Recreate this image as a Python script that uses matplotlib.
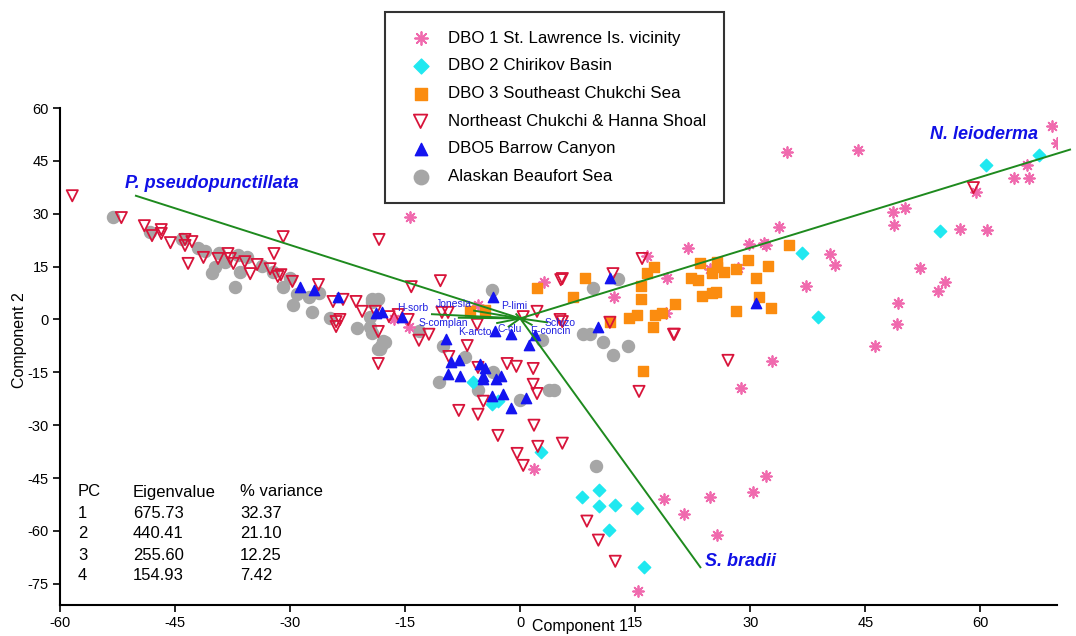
import matplotlib
matplotlib.use('Agg')
import matplotlib.pyplot as plt

plt.rcParams['font.family'] = ['Liberation Sans', 'DejaVu Sans']
plt.rcParams['axes.unicode_minus'] = False

# DBO 1 St. Lawrence Is. vicinity
dbo1_x = [69.3, 70.0, 66.1, 64.4, 66.4, 59.5, 48.6, 50.2, 48.8, 57.3, 60.9, 44.1, 34.8,
          33.8, 32.0, 40.4, 41.0, 52.2, 55.4, 54.5, 37.3, 49.3, 49.2, 46.3, 32.9,
          21.9, 29.9, 31.8, 16.6, 19.2, 12.3, 24.8, 28.4, 19.0, -14.3, 3.1, -5.5,
          -14.5, -16.5, 1.8, 18.7, 15.4, 21.3, 24.8, 25.7, 30.3, 32.1, 28.8]
dbo1_y = [55.0, 50.1, 43.9, 40.0, 40.2, 36.3, 30.6, 31.7, 26.9, 25.8, 25.5, 48.2, 47.6,
          26.3, 21.0, 18.7, 15.6, 14.7, 10.5, 8.2, 9.6, 4.8, -1.4, -7.6, -11.9,
          20.4, 21.5, 21.8, 18.1, 11.9, 6.5, 14.4, 14.7, 1.7, 29.2, 10.5, 4.2,
          -2.0, 0.0, -42.5, -51.0, -77.0, -55.2, -50.4, -61.0, -49.0, -44.5, -19.3]

# DBO 2 Chirikov Basin
dbo2_x = [60.8, 67.7, 54.8, 36.7, 38.9, -6.1, -3.7, -2.9, 2.7, 8.1, 10.3, 10.3, 12.4,
          15.3, 11.6, 16.2]
dbo2_y = [43.9, 46.7, 25.2, 19.0, 0.6, -17.6, -24.1, -23.2, -37.7, -50.4, -48.4, -53.0,
          -52.7, -53.5, -59.8, -70.3]

# DBO 3 Southeast Chukchi Sea
dbo3_x = [35.1, 29.7, 32.3, 23.5, 25.7, 25.7, 25.0, 26.6, 28.2, 17.5, 16.6, 22.3, 23.2,
          30.7, 15.7, 15.7, 23.7, 25.0, 25.6, 31.2, 32.7, 28.2, 20.2, 15.3, 14.2, 17.6,
          18.5, 17.3, 11.7, 8.5, 6.9, 16.0, 2.2, -6.5, -4.6]
dbo3_y = [21.2, 17.0, 15.3, 15.9, 16.4, 15.0, 13.3, 13.6, 14.2, 15.0, 13.3, 11.9, 11.3,
          11.9, 9.6, 5.7, 6.8, 7.4, 7.9, 6.5, 3.4, 2.5, 4.5, 1.4, 0.3, 1.4,
          1.7, -2.0, -0.8, 11.9, 6.5, -14.7, 8.8, 2.3, 2.8]

# Northeast Chukchi & Hanna Shoal
nec_x = [-58.4, -52.0, -49.0, -48.0, -46.8, -46.8, -45.6, -43.7, -42.8, -43.7, -43.3,
         -41.3, -39.4, -38.1, -37.8, -37.4, -35.9, -35.2, -34.3, -32.6, -32.1, -30.9,
         -31.6, -31.2, -29.7, -26.3, -24.4, -23.1, -21.4, -24.0, -23.5, -24.0, -18.9,
         -18.5, -18.5, -18.4, -17.1, -14.2, -10.4, -15.9, -14.6, -10.2, -9.4, -5.6,
         5.3, 2.2, 0.4, 5.2, -20.6, -13.2, -11.9, -6.9, -9.3, -1.7, -0.5, 1.7, -5.5,
         1.7, 2.2, -4.8, -8.0, -5.5, 1.8, -2.9, 5.5, 2.3, -0.4, 0.4, 15.5, 8.7, 10.2,
         12.4, 20.0, 15.9, 12.1, 11.7, 20.1, 27.1, 5.5, 5.5, 59.1]
nec_y = [35.1, 28.9, 26.6, 23.8, 25.5, 24.4, 21.8, 22.7, 22.1, 21.0, 15.9,
         17.6, 17.3, 18.7, 17.3, 15.9, 16.4, 13.0, 15.6, 14.4, 18.7, 23.5,
         12.2, 12.7, 10.8, 9.9, 5.1, 5.7, 5.1, -0.6, 0.0, -2.0, 2.3,
         -3.4, -12.5, 22.7, 0.8, 9.3, 11.0, 1.4, 0.0, 2.0, 2.0, -1.4,
         11.3, 2.3, 0.8, 0.0, 2.3, -5.9, -4.2, -7.4, -10.5, -12.5, -13.3, -13.9, -13.6,
         -18.4, -21.0, -23.2, -25.8, -26.9, -30.0, -32.9, -35.1, -36.0, -38.0, -41.4, -20.4, -57.2, -62.6,
         -68.6, -4.2, 17.3, 13.0, -0.8, -4.2, -11.6, 11.6, -0.6, 37.4]

# DBO5 Barrow Canyon
dbo5_x = [-28.7, -26.9, -23.7, -18.8, -18.0, -3.5, -9.7, -3.3, -1.2, 1.2, 2.0, -9.0,
          -8.0, -5.3, -4.6, -9.4, -7.8, -4.9, -4.8, -3.1, -2.5, -3.7, -2.2, -1.2, 0.8,
          11.7, 10.2, 30.8, -15.4]
dbo5_y = [9.1, 8.5, 6.5, 1.7, 2.0, 6.5, -5.4, -3.4, -4.0, -7.1, -4.5, -12.2,
          -11.6, -12.5, -13.9, -15.6, -16.1, -16.1, -17.0, -17.0, -16.1, -21.8, -21.0, -25.2, -22.4,
          11.9, -2.0, 4.8, 0.8]

# Alaskan Beaufort Sea
abs_x = [-53.1, -48.3, -44.1, -42.0, -41.1, -39.3, -38.5, -39.8, -40.2, -36.8, -35.6,
         -36.5, -37.2, -33.7, -32.2, -30.9, -30.0, -29.1, -29.6, -27.5, -27.1, -26.2,
         -24.8, -21.3, -19.3, -18.5, -19.6, -19.3, -18.5, -17.9, -18.3, -18.1, -19.6,
         -3.7, -19.3, -17.6, -13.2, -10.0, -7.2, 2.9, 8.2, 9.1, 9.5, 12.7, 10.8, 12.1,
         14.0, -10.6, -5.5, -3.5, 0.0, 3.7, 4.4, 9.9]
abs_y = [29.2, 24.9, 22.7, 20.4, 19.5, 19.0, 16.4, 15.0, 13.3, 18.4, 17.8,
         13.6, 9.3, 15.3, 13.6, 9.3, 11.9, 7.1, 4.2, 6.5, 2.0, 7.6,
         0.3, -2.5, 5.9, 5.7, -2.0, -3.7, -8.5, -6.2, -8.5, -7.4, 0.8,
         8.5, 5.1, -6.5, -3.4, -7.6, -10.5, -5.7, -4.2, -4.2, 8.8, 11.6, -6.5, -10.2,
         -7.4, -17.6, -20.1, -15.0, -22.7, -20.1, -20.1, -41.6]

# biplot vectors
vec_names = ['P. pseudopunctillata', 'N. leioderma', 'S. bradii']
vec_x = [-50.1, 71.7, 23.5]
vec_y = [35.1, 48.2, -70.3]
small_names = ['H-sorb', 'Jonesia', 'S-complan', 'K-arcto', 'C-clu', 'P-limi', 'Schizo', 'E-concin']
small_x = [-11.5, -6.0, -8.0, -3.0, -1.5, -0.5, 3.5, 1.5]
small_y = [1.5, 2.5, 0.5, -1.0, -2.0, 1.5, -0.8, -1.5]
small_lx = [-14.0, -8.7, -10.0, -5.9, -1.3, -0.8, 5.2, 3.9]
small_ly = [3.4, 4.5, -0.9, -3.6, -2.6, 3.7, -0.9, -3.4]

pc = ['1', '2', '3', '4']
eigen = ['675.73', '440.41', '255.60', '154.93']
pvar = ['32.37', '21.10', '12.25', '7.42']

fig = plt.figure(figsize=(10.76, 6.36), dpi=100)
ax = fig.add_axes([60/1076, 1-605/636, 997/1076, 497/636])

ms = 55
h1 = ax.scatter(dbo1_x, dbo1_y, marker=(8, 2, 0), s=60, color='#f06aae', linewidths=1.3, zorder=3,
                label='DBO 1 St. Lawrence Is. vicinity')
h2 = ax.scatter(dbo2_x, dbo2_y, marker='D', s=40, color='#20e8f0', zorder=3,
                label='DBO 2 Chirikov Basin')
h3 = ax.scatter(dbo3_x, dbo3_y, marker='s', s=ms, color='#fb8c0f', zorder=3,
                label='DBO 3 Southeast Chukchi Sea')
h4 = ax.scatter(nec_x, nec_y, marker='v', s=65, facecolor='none', edgecolor='#d8143a',
                linewidths=1.3, zorder=4, label='Northeast Chukchi & Hanna Shoal')
h5 = ax.scatter(dbo5_x, dbo5_y, marker='^', s=ms, color='#1414f0', zorder=4,
                label='DBO5 Barrow Canyon')
h6 = ax.scatter(abs_x, abs_y, marker='o', s=75, color='#a6a6a6', zorder=2,
                label='Alaskan Beaufort Sea')

green = '#1e8a1e'
for vx, vy in zip(vec_x, vec_y):
    ax.plot([0, vx], [0.3, vy], color=green, lw=1.4, zorder=5, clip_on=False)
for vx, vy in zip(small_x, small_y):
    ax.plot([0, vx], [0.3, vy], color=green, lw=1.4, zorder=5)
for name, lx, ly in zip(small_names, small_lx, small_ly):
    ax.text(lx, ly, name, color='#2020e0', fontsize=7.5, ha='center', va='center', zorder=6)

blue = '#1010e6'
ax.text(-51.5, 38.5, vec_names[0], color=blue, fontsize=13, fontweight='bold',
        fontstyle='italic', ha='left', va='center')
ax.text(53.5, 52.4, vec_names[1], color=blue, fontsize=13, fontweight='bold',
        fontstyle='italic', ha='left', va='center')
ax.text(24.1, -68.8, vec_names[2], color=blue, fontsize=13, fontweight='bold',
        fontstyle='italic', ha='left', va='center')

ax.set_xlim(-60, 70)
ax.set_ylim(-81, 60)
ax.set_xticks(range(-60, 61, 15))
ax.set_yticks(range(-75, 61, 15))
for s in ['top', 'right']:
    ax.spines[s].set_visible(False)
for s in ['left', 'bottom']:
    ax.spines[s].set_linewidth(1.5)
ax.tick_params(direction='out', length=5, width=1.2, labelsize=10.5, pad=3)

fig.text(20/1076, 1-340/636, 'Component 2', rotation=90, fontsize=11.5, ha='center', va='center')
fig.text(580/1076, 1-627/636, 'Component 1', fontsize=11.5, ha='center', va='center')

# eigenvalue table
cols = [78, 133, 240]
rows = [492, 513, 534, 555, 575]
heads = ['PC', 'Eigenvalue', '% variance']
for cx, t in zip(cols, heads):
    fig.text(cx/1076, 1-rows[0]/636, t, fontsize=12, ha='left', va='center')
for i in range(4):
    for cx, t in zip(cols, [pc[i], eigen[i], pvar[i]]):
        fig.text(cx/1076, 1-rows[i+1]/636, t, fontsize=12, ha='left', va='center')

leg = ax.legend(handles=[h1, h2, h3, h4, h5, h6], loc='upper left',
                bbox_to_anchor=(385/1076, 1-12/636), bbox_transform=fig.transFigure,
                fontsize=12.2, frameon=True, fancybox=False, edgecolor='black',
                borderpad=1.1, labelspacing=0.75, handletextpad=0.6, borderaxespad=0,
                markerscale=1.2)
leg.get_frame().set_linewidth(1.5)
leg.set_zorder(10)

fig.savefig('out.png', dpi=100)
